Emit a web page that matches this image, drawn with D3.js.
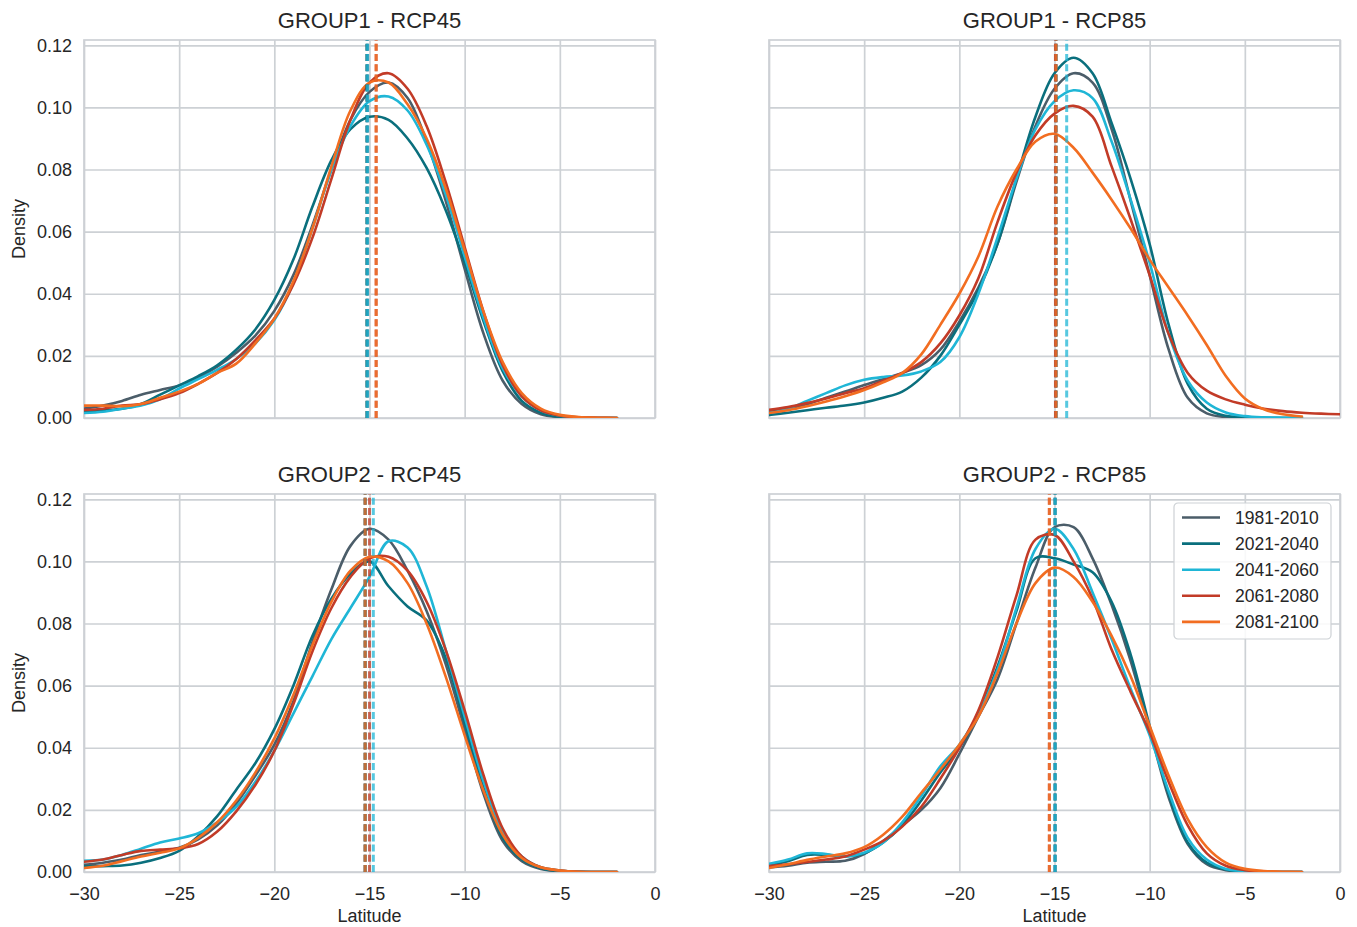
<!DOCTYPE html>
<html><head><meta charset="utf-8">
<script src="https://cdn.jsdelivr.net/npm/d3@7"></script>
<style>body{margin:0;background:#fff} svg{font-family:"Liberation Sans",Arial,sans-serif}</style>
</head><body>
<svg id="chart" width="1357" height="927"></svg>
<script>
// ---------- DATA ----------
const latitude = [-30,-29,-28,-27,-26,-25,-24,-23,-22,-21,-20,-19,-18,-17,-16,-15,-14,-13,-12,-11,-10,-9,-8,-7,-6,-5,-4,-3,-2,-1,0];
const periods = ["1981-2010","2021-2040","2041-2060","2061-2080","2081-2100"];
const colors = ["#4b5d69","#0a6f7d","#1fb6d6","#c23b27","#f26d21"];
const panelTitles = ["GROUP1 - RCP45","GROUP1 - RCP85","GROUP2 - RCP45","GROUP2 - RCP85"];
const xTicks = [-30,-25,-20,-15,-10,-5,0];
const yTicks = [0,0.02,0.04,0.06,0.08,0.10,0.12];

// GROUP1 - RCP45
const g1r45_1981 = [0.003,0.004,0.0055,0.0075,0.009,0.0105,0.013,0.0165,0.021,0.0265,0.0345,0.046,0.062,0.080,0.096,0.105,0.108,0.103,0.089,0.070,0.048,0.027,0.012,0.0045,0.0012,0.0003,0.0001,0,0,null,null];
const g1r45_2021 = [0.002,0.0025,0.003,0.0045,0.0075,0.0105,0.0135,0.017,0.022,0.0285,0.038,0.051,0.068,0.083,0.093,0.097,0.096,0.090,0.0805,0.067,0.050,0.031,0.015,0.0055,0.0017,0.0004,0.0001,0,0,null,null];
const g1r45_2041 = [0.0016,0.002,0.003,0.004,0.006,0.0095,0.0125,0.0155,0.019,0.024,0.0315,0.0435,0.061,0.080,0.094,0.102,0.1035,0.099,0.088,0.072,0.052,0.032,0.016,0.007,0.0025,0.0008,0.0002,0,0,null,null];
const g1r45_2061 = [0.0026,0.003,0.004,0.0045,0.006,0.008,0.011,0.0145,0.019,0.025,0.032,0.043,0.058,0.077,0.096,0.108,0.111,0.106,0.094,0.076,0.055,0.034,0.017,0.007,0.0025,0.0008,0.0002,0.0001,0,null,null];
const g1r45_2081 = [0.004,0.004,0.0038,0.0045,0.0065,0.0085,0.011,0.0145,0.0175,0.024,0.032,0.044,0.061,0.081,0.099,0.108,0.108,0.101,0.090,0.074,0.054,0.034,0.018,0.008,0.003,0.001,0.0003,0.0001,0,null,null];
const g1r45_means = [-15.1,-15.15,-15.1,-14.65,-14.65];

// GROUP1 - RCP85
const g1r85_1981 = [0.002,0.003,0.0045,0.0065,0.0085,0.0106,0.0125,0.0145,0.017,0.022,0.031,0.042,0.056,0.076,0.094,0.106,0.111,0.108,0.093,0.070,0.046,0.022,0.0065,0.0015,0.0003,0.0001,0,0,0,null,null];
const g1r85_2021 = [0.001,0.0017,0.0025,0.0033,0.004,0.005,0.0065,0.0085,0.013,0.020,0.030,0.041,0.056,0.077,0.097,0.111,0.116,0.111,0.095,0.077,0.056,0.030,0.011,0.003,0.0007,0.0002,0,0,0,null,null];
const g1r85_2041 = [0.0016,0.003,0.0055,0.008,0.0105,0.0123,0.0132,0.0137,0.015,0.018,0.026,0.040,0.058,0.077,0.093,0.102,0.1055,0.103,0.089,0.0703,0.050,0.027,0.012,0.005,0.0018,0.0006,0.0002,0.0001,0,null,null];
const g1r85_2061 = [0.0026,0.0035,0.0048,0.0063,0.008,0.0096,0.012,0.0145,0.018,0.024,0.033,0.045,0.063,0.079,0.091,0.098,0.1005,0.097,0.081,0.064,0.046,0.027,0.0145,0.0088,0.006,0.0043,0.003,0.0022,0.0017,0.0014,0.0012];
const g1r85_2081 = [0.0016,0.0025,0.0038,0.0053,0.007,0.009,0.0115,0.0145,0.0205,0.030,0.040,0.052,0.068,0.080,0.089,0.0915,0.087,0.079,0.0703,0.061,0.051,0.042,0.033,0.0235,0.0135,0.0063,0.0028,0.0012,0.0005,null,null];
const g1r85_means = [-14.92,-14.92,-14.36,-14.95,-14.92];

// GROUP2 - RCP45
const g2r45_1981 = [0.0023,0.003,0.004,0.0055,0.0065,0.0078,0.0105,0.015,0.022,0.031,0.041,0.055,0.074,0.091,0.105,0.1105,0.107,0.097,0.084,0.067,0.046,0.025,0.010,0.0035,0.001,0.0003,0.0001,0,0,null,null];
const g2r45_2021 = [0.0018,0.0019,0.0021,0.003,0.0045,0.0068,0.0115,0.018,0.0265,0.035,0.046,0.060,0.076,0.088,0.096,0.100,0.092,0.0855,0.081,0.069,0.048,0.027,0.011,0.004,0.0012,0.0003,0.0001,0,0,null,null];
const g2r45_2041 = [0.0036,0.004,0.0055,0.0075,0.0095,0.0108,0.0125,0.016,0.021,0.029,0.039,0.051,0.063,0.075,0.085,0.095,0.1065,0.1045,0.092,0.0716,0.050,0.029,0.013,0.005,0.0015,0.0005,0.0001,0,0,null,null];
const g2r45_2061 = [0.0033,0.004,0.0055,0.0068,0.0072,0.0076,0.009,0.013,0.0195,0.028,0.039,0.054,0.071,0.085,0.095,0.101,0.1015,0.097,0.087,0.0716,0.052,0.031,0.014,0.005,0.0015,0.0005,0.0001,0,0,null,null];
const g2r45_2081 = [0.0013,0.002,0.0035,0.005,0.0062,0.0076,0.011,0.016,0.023,0.032,0.043,0.057,0.073,0.087,0.097,0.1015,0.100,0.093,0.080,0.063,0.044,0.026,0.012,0.0045,0.0015,0.0005,0.0001,0,0,null,null];
const g2r45_means = [-15.23,-15.23,-14.8,-15.0,-15.23];

// GROUP2 - RCP85
const g2r85_1981 = [0.0015,0.002,0.003,0.0033,0.0036,0.0058,0.010,0.015,0.020,0.027,0.038,0.050,0.062,0.080,0.098,0.111,0.111,0.101,0.086,0.068,0.046,0.024,0.009,0.0025,0.0006,0.0001,0,0,0,null,null];
const g2r85_2021 = [0.0024,0.0035,0.0055,0.0055,0.005,0.006,0.0095,0.015,0.023,0.032,0.040,0.051,0.066,0.084,0.101,0.101,0.099,0.0965,0.087,0.070,0.047,0.025,0.0095,0.003,0.0008,0.0002,0,0,0,null,null];
const g2r85_2041 = [0.0026,0.004,0.006,0.0058,0.005,0.0062,0.0095,0.016,0.0245,0.034,0.041,0.051,0.065,0.085,0.104,0.1105,0.104,0.090,0.075,0.059,0.044,0.026,0.011,0.004,0.001,0.0003,0,0,0,null,null];
const g2r85_2061 = [0.0019,0.0025,0.0032,0.004,0.005,0.0072,0.010,0.0146,0.021,0.030,0.040,0.052,0.069,0.089,0.107,0.1085,0.100,0.088,0.0716,0.058,0.045,0.029,0.015,0.006,0.002,0.0006,0.0001,0,0,null,null];
const g2r85_2081 = [0.0013,0.0025,0.0039,0.005,0.006,0.008,0.012,0.0178,0.0255,0.033,0.041,0.050,0.064,0.080,0.093,0.098,0.095,0.087,0.076,0.063,0.047,0.031,0.017,0.008,0.003,0.001,0.0003,0.0001,0,null,null];
const g2r85_means = [-14.97,-14.97,-14.97,-15.27,-15.27];

// ---------- LAYOUT ----------
const panels = [
  {title: panelTitles[0], series:[g1r45_1981,g1r45_2021,g1r45_2041,g1r45_2061,g1r45_2081], means:g1r45_means, left:84, top:40, yLabels:true, xLabels:false, legend:false},
  {title: panelTitles[1], series:[g1r85_1981,g1r85_2021,g1r85_2041,g1r85_2061,g1r85_2081], means:g1r85_means, left:769, top:40, yLabels:false, xLabels:false, legend:false},
  {title: panelTitles[2], series:[g2r45_1981,g2r45_2021,g2r45_2041,g2r45_2061,g2r45_2081], means:g2r45_means, left:84, top:494, yLabels:true, xLabels:true, legend:false},
  {title: panelTitles[3], series:[g2r85_1981,g2r85_2021,g2r85_2041,g2r85_2061,g2r85_2081], means:g2r85_means, left:769, top:494, yLabels:false, xLabels:true, legend:true}
];
const W = 571, H = 378, yMax = 0.1217;
const gridColor = "#cdd1d5", textColor = "#262626";

const svg = d3.select("#chart");
const x = d3.scaleLinear().domain([-30,0]).range([0,W]);
const y = d3.scaleLinear().domain([0,yMax]).range([H,0]);
const fmtX = d => d < 0 ? "\u2212" + Math.abs(d) : String(d);

panels.forEach((p, pi) => {
  const g = svg.append("g").attr("transform", `translate(${p.left},${p.top})`);
  const clipId = "clip" + pi;
  g.append("clipPath").attr("id", clipId).append("rect").attr("width", W).attr("height", H);

  // grid + axes
  const ya = g.append("g").call(d3.axisLeft(y).tickValues(yTicks).tickSize(-W).tickPadding(12)
      .tickFormat(p.yLabels ? d3.format(".2f") : ""));
  const xa = g.append("g").attr("transform", `translate(0,${H})`).call(d3.axisBottom(x).tickValues(xTicks).tickSize(-H).tickPadding(15)
      .tickFormat(p.xLabels ? fmtX : ""));
  [ya, xa].forEach(a => {
    a.select(".domain").remove();
    a.selectAll(".tick line").attr("stroke", gridColor).attr("stroke-width", 1.7);
    a.selectAll(".tick text").attr("fill", textColor).style("font-size", "18px").style("font-family", '"Liberation Sans",Arial,sans-serif');
  });
  g.append("rect").attr("width", W).attr("height", H).attr("fill", "none").attr("stroke", gridColor).attr("stroke-width", 1.7);

  // density curves
  const line = d3.line()
    .x(d => x(d[0])).y(d => y(d[1]))
    .curve(d3.curveCatmullRom.alpha(0.5));
  const plot = g.append("g").attr("clip-path", `url(#${clipId})`);
  p.series.forEach((vals, si) => {
    const pts = latitude.map((lat, i) => [lat, vals[i]]).filter(d => d[1] !== null);
    plot.append("path").datum(pts).attr("d", line)
      .attr("fill", "none").attr("stroke", colors[si]).attr("stroke-width", 2.6)
      .attr("stroke-linejoin", "round").attr("stroke-linecap", "round");
  });
  // mean lines
  p.means.forEach((m, si) => {
    plot.append("line").attr("x1", x(m)).attr("x2", x(m)).attr("y1", H).attr("y2", 0)
      .attr("stroke", colors[si]).attr("stroke-width", 3).attr("stroke-dasharray", "7,3.2")
      .attr("stroke-opacity", 0.75);
  });

  // title
  g.append("text").attr("x", W/2).attr("y", -12).attr("text-anchor", "middle")
    .attr("fill", textColor).style("font-size", "22px").text(p.title);

  if (p.yLabels) {
    g.append("text").attr("transform", `translate(${25 - p.left},${H/2}) rotate(-90)`)
      .attr("text-anchor", "middle").attr("fill", textColor).style("font-size", "18px").text("Density");
  }
  if (p.xLabels) {
    g.append("text").attr("x", W/2).attr("y", H + 50).attr("text-anchor", "middle")
      .attr("fill", textColor).style("font-size", "18px").text("Latitude");
  }
  if (p.legend) {
    const lg = g.append("g").attr("transform", `translate(${1174 - p.left},${503 - p.top})`);
    lg.append("rect").attr("width", 157).attr("height", 136).attr("rx", 4)
      .attr("fill", "#ffffff").attr("fill-opacity", 0.85).attr("stroke", gridColor).attr("stroke-width", 1.2);
    periods.forEach((per, i) => {
      const yy = 14.5 + i * 26.1;
      lg.append("line").attr("x1", 8).attr("x2", 46).attr("y1", yy).attr("y2", yy)
        .attr("stroke", colors[i]).attr("stroke-width", 2.6);
      lg.append("text").attr("x", 61).attr("y", yy + 6).attr("fill", textColor)
        .style("font-size", "17.5px").text(per);
    });
  }
});
</script>
</body></html>
